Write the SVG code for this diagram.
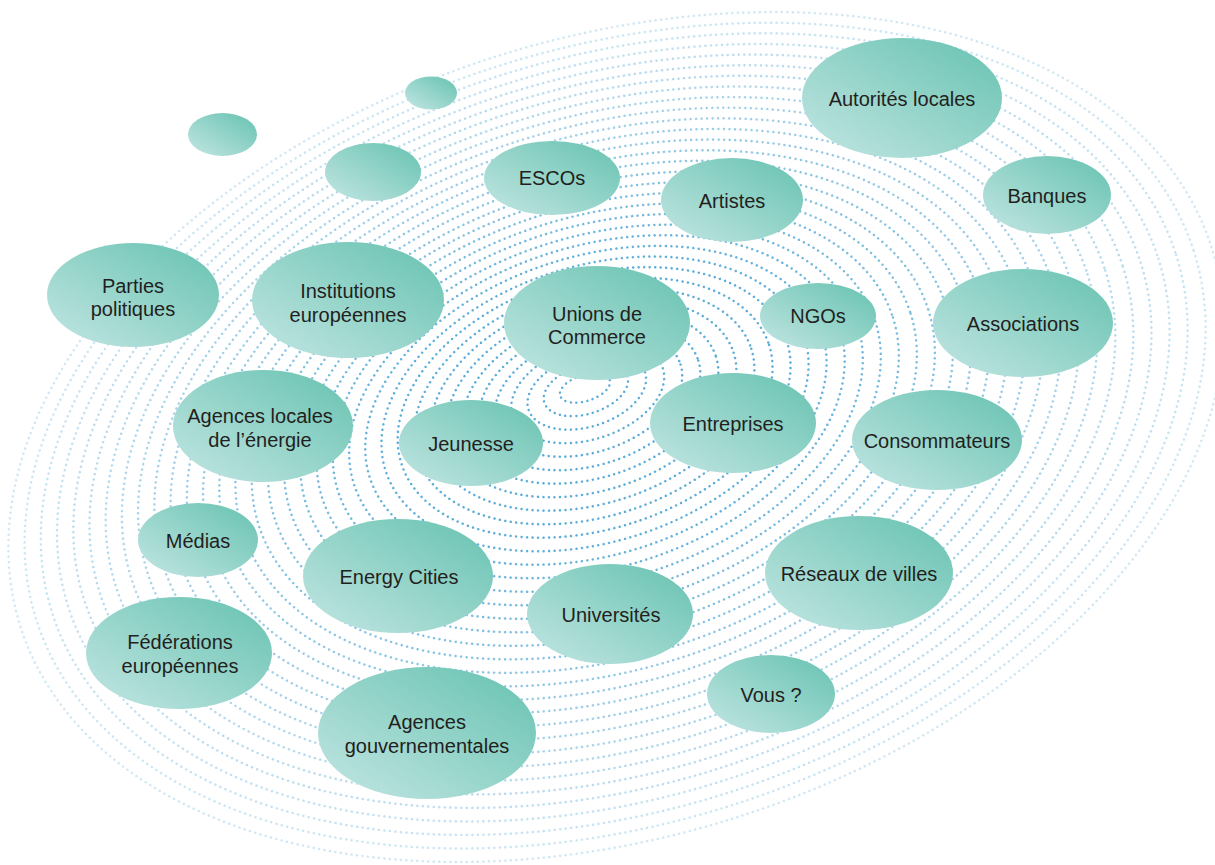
<svg xmlns="http://www.w3.org/2000/svg" width="1215" height="865" viewBox="0 0 1215 865">
<defs>
<linearGradient id="bub" x1="0" y1="1" x2="1" y2="0">
<stop offset="0" stop-color="#c3e6e3"/>
<stop offset="1" stop-color="#66c2b0"/>
</linearGradient>
<style>
.ring{fill:none;stroke:#3f9fd3;stroke-width:2.5;stroke-dasharray:0 5.5;stroke-linecap:round}
.node ellipse{fill:url(#bub)}
.node text{font-family:"Liberation Sans",Arial,sans-serif;font-size:20px;fill:#231f20;text-anchor:middle}
</style>
</defs>
<rect width="1215" height="865" fill="#ffffff"/>
<g id="background">
<ellipse class="ring" stroke-opacity="0.85" cx="585.0" cy="388.0" rx="26.0" ry="13.0" transform="rotate(-17.7 585.0 388.0)"/>
<ellipse class="ring" stroke-opacity="0.85" cx="585.9" cy="389.4" rx="43.6" ry="24.4" transform="rotate(-17.7 585.9 389.4)"/>
<ellipse class="ring" stroke-opacity="0.85" cx="586.8" cy="390.9" rx="61.2" ry="35.7" transform="rotate(-17.7 586.8 390.9)"/>
<ellipse class="ring" stroke-opacity="0.85" cx="587.7" cy="392.3" rx="78.9" ry="47.1" transform="rotate(-17.7 587.7 392.3)"/>
<ellipse class="ring" stroke-opacity="0.85" cx="588.6" cy="393.8" rx="96.5" ry="58.4" transform="rotate(-17.7 588.6 393.8)"/>
<ellipse class="ring" stroke-opacity="0.85" cx="589.6" cy="395.2" rx="114.1" ry="69.8" transform="rotate(-17.7 589.6 395.2)"/>
<ellipse class="ring" stroke-opacity="0.85" cx="590.5" cy="396.6" rx="131.7" ry="81.1" transform="rotate(-17.7 590.5 396.6)"/>
<ellipse class="ring" stroke-opacity="0.85" cx="591.4" cy="398.1" rx="149.3" ry="92.5" transform="rotate(-17.7 591.4 398.1)"/>
<ellipse class="ring" stroke-opacity="0.85" cx="592.3" cy="399.5" rx="166.9" ry="103.8" transform="rotate(-17.7 592.3 399.5)"/>
<ellipse class="ring" stroke-opacity="0.85" cx="593.2" cy="401.0" rx="184.6" ry="115.2" transform="rotate(-17.7 593.2 401.0)"/>
<ellipse class="ring" stroke-opacity="0.85" cx="594.1" cy="402.4" rx="202.2" ry="126.5" transform="rotate(-17.7 594.1 402.4)"/>
<ellipse class="ring" stroke-opacity="0.825" cx="595.0" cy="403.9" rx="219.8" ry="137.9" transform="rotate(-17.7 595.0 403.9)"/>
<ellipse class="ring" stroke-opacity="0.80" cx="595.9" cy="405.3" rx="237.4" ry="149.2" transform="rotate(-17.7 595.9 405.3)"/>
<ellipse class="ring" stroke-opacity="0.775" cx="596.9" cy="406.7" rx="255.0" ry="160.6" transform="rotate(-17.7 596.9 406.7)"/>
<ellipse class="ring" stroke-opacity="0.75" cx="597.8" cy="408.2" rx="272.7" ry="171.9" transform="rotate(-17.7 597.8 408.2)"/>
<ellipse class="ring" stroke-opacity="0.725" cx="598.7" cy="409.6" rx="290.3" ry="183.3" transform="rotate(-17.7 598.7 409.6)"/>
<ellipse class="ring" stroke-opacity="0.70" cx="599.6" cy="411.1" rx="307.9" ry="194.6" transform="rotate(-17.7 599.6 411.1)"/>
<ellipse class="ring" stroke-opacity="0.675" cx="600.5" cy="412.5" rx="325.5" ry="206.0" transform="rotate(-17.7 600.5 412.5)"/>
<ellipse class="ring" stroke-opacity="0.65" cx="601.4" cy="413.9" rx="343.1" ry="217.4" transform="rotate(-17.7 601.4 413.9)"/>
<ellipse class="ring" stroke-opacity="0.625" cx="602.3" cy="415.4" rx="360.7" ry="228.7" transform="rotate(-17.7 602.3 415.4)"/>
<ellipse class="ring" stroke-opacity="0.60" cx="603.2" cy="416.8" rx="378.4" ry="240.1" transform="rotate(-17.7 603.2 416.8)"/>
<ellipse class="ring" stroke-opacity="0.575" cx="604.2" cy="418.3" rx="396.0" ry="251.4" transform="rotate(-17.7 604.2 418.3)"/>
<ellipse class="ring" stroke-opacity="0.55" cx="605.1" cy="419.7" rx="413.6" ry="262.8" transform="rotate(-17.7 605.1 419.7)"/>
<ellipse class="ring" stroke-opacity="0.525" cx="606.0" cy="421.1" rx="431.2" ry="274.1" transform="rotate(-17.7 606.0 421.1)"/>
<ellipse class="ring" stroke-opacity="0.50" cx="606.9" cy="422.6" rx="448.8" ry="285.5" transform="rotate(-17.7 606.9 422.6)"/>
<ellipse class="ring" stroke-opacity="0.475" cx="607.8" cy="424.0" rx="466.5" ry="296.8" transform="rotate(-17.7 607.8 424.0)"/>
<ellipse class="ring" stroke-opacity="0.45" cx="608.7" cy="425.5" rx="484.1" ry="308.2" transform="rotate(-17.7 608.7 425.5)"/>
<ellipse class="ring" stroke-opacity="0.425" cx="609.6" cy="426.9" rx="501.7" ry="319.5" transform="rotate(-17.7 609.6 426.9)"/>
<ellipse class="ring" stroke-opacity="0.40" cx="610.5" cy="428.3" rx="519.3" ry="330.9" transform="rotate(-17.7 610.5 428.3)"/>
<ellipse class="ring" stroke-opacity="0.375" cx="611.4" cy="429.8" rx="536.9" ry="342.2" transform="rotate(-17.7 611.4 429.8)"/>
<ellipse class="ring" stroke-opacity="0.35" cx="612.4" cy="431.2" rx="554.5" ry="353.6" transform="rotate(-17.7 612.4 431.2)"/>
<ellipse class="ring" stroke-opacity="0.325" cx="613.3" cy="432.7" rx="572.2" ry="364.9" transform="rotate(-17.7 613.3 432.7)"/>
<ellipse class="ring" stroke-opacity="0.30" cx="614.2" cy="434.1" rx="589.8" ry="376.3" transform="rotate(-17.7 614.2 434.1)"/>
<ellipse class="ring" stroke-opacity="0.275" cx="615.1" cy="435.6" rx="607.4" ry="387.6" transform="rotate(-17.7 615.1 435.6)"/>
<ellipse class="ring" stroke-opacity="0.25" cx="616.0" cy="437.0" rx="625.0" ry="399.0" transform="rotate(-17.7 616.0 437.0)"/>
</g>
<g id="blob1" class="node"><ellipse cx="431" cy="93" rx="26" ry="16.5"/></g>
<g id="blob2" class="node"><ellipse cx="222.5" cy="134.5" rx="34.5" ry="21.5"/></g>
<g id="blob3" class="node"><ellipse cx="373" cy="172" rx="48" ry="29"/></g>
<g id="escos" class="node"><ellipse cx="552" cy="178" rx="68" ry="37"/><text x="552" y="185">ESCOs</text></g>
<g id="autorites" class="node"><ellipse cx="902" cy="98" rx="100" ry="60"/><text x="902" y="106">Autorités locales</text></g>
<g id="artistes" class="node"><ellipse cx="732" cy="200" rx="71" ry="42"/><text x="732" y="208">Artistes</text></g>
<g id="banques" class="node"><ellipse cx="1047" cy="195" rx="64" ry="39"/><text x="1047" y="203">Banques</text></g>
<g id="partis" class="node"><ellipse cx="133" cy="295" rx="86" ry="52"/><text x="133" y="293">Parties</text><text x="133" y="316">politiques</text></g>
<g id="institutions" class="node"><ellipse cx="348" cy="300" rx="96" ry="58"/><text x="348" y="298">Institutions</text><text x="348" y="322">européennes</text></g>
<g id="unions" class="node"><ellipse cx="597" cy="323" rx="93" ry="57"/><text x="597" y="321">Unions de</text><text x="597" y="344">Commerce</text></g>
<g id="ngos" class="node"><ellipse cx="818" cy="316" rx="58" ry="33"/><text x="818" y="323">NGOs</text></g>
<g id="associations" class="node"><ellipse cx="1023" cy="323" rx="90" ry="54"/><text x="1023" y="331">Associations</text></g>
<g id="agences-locales" class="node"><ellipse cx="263" cy="426" rx="90" ry="56"/><text x="260" y="423">Agences locales</text><text x="260" y="447">de l’énergie</text></g>
<g id="jeunesse" class="node"><ellipse cx="471" cy="443" rx="72" ry="43"/><text x="471" y="451">Jeunesse</text></g>
<g id="entreprises" class="node"><ellipse cx="733" cy="423" rx="83" ry="50"/><text x="733" y="431">Entreprises</text></g>
<g id="consommateurs" class="node"><ellipse cx="937" cy="440" rx="85" ry="50"/><text x="937" y="448">Consommateurs</text></g>
<g id="medias" class="node"><ellipse cx="198" cy="540" rx="60" ry="37"/><text x="198" y="548">Médias</text></g>
<g id="energy-cities" class="node"><ellipse cx="398" cy="576" rx="95" ry="57"/><text x="399" y="584">Energy Cities</text></g>
<g id="reseaux" class="node"><ellipse cx="859" cy="573" rx="94" ry="57"/><text x="859" y="581">Réseaux de villes</text></g>
<g id="universites" class="node"><ellipse cx="610" cy="614" rx="83" ry="50"/><text x="611" y="622">Universités</text></g>
<g id="federations" class="node"><ellipse cx="179" cy="653" rx="93" ry="56"/><text x="180" y="649">Fédérations</text><text x="180" y="673">européennes</text></g>
<g id="vous" class="node"><ellipse cx="771" cy="694" rx="64" ry="39"/><text x="771" y="702">Vous ?</text></g>
<g id="agences-gouv" class="node"><ellipse cx="427" cy="733" rx="109" ry="66"/><text x="427" y="729">Agences</text><text x="427" y="753">gouvernementales</text></g>
</svg>
